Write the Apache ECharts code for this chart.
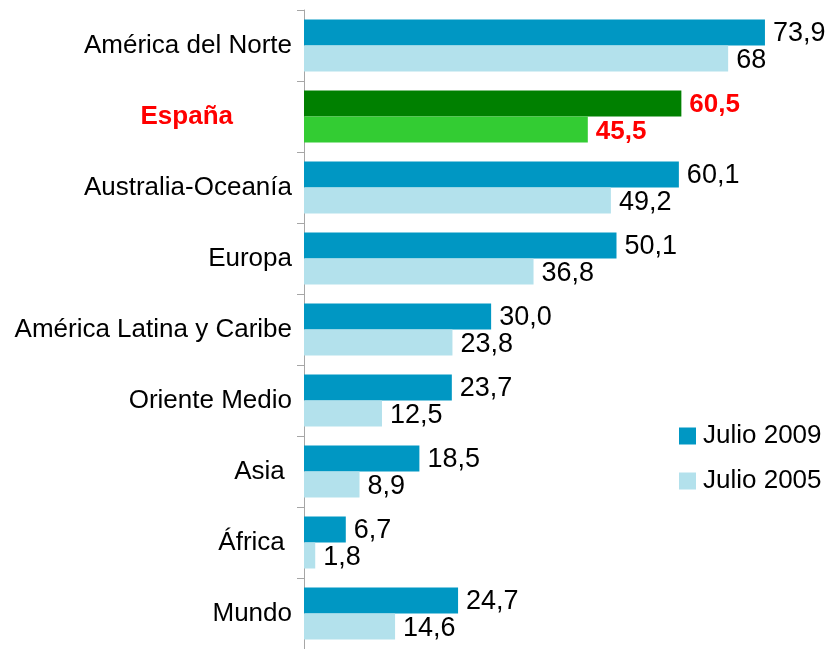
<!DOCTYPE html>
<html>
<head>
<meta charset="utf-8">
<script src="https://cdn.jsdelivr.net/npm/echarts@6/dist/echarts.min.js"></script>
<style>
  html, body { margin: 0; padding: 0; background: #fff; }
  #main { width: 828px; height: 649px; }
</style>
</head>
<body>
<div id="main"></div>
<script>
// regiones, de arriba a abajo (algunas llevan espacio final como en el original)
var regiones = ['América del Norte', 'España', 'Australia-Oceanía', 'Europa',
  'América Latina y Caribe', 'Oriente Medio', 'Asia ', 'África ', 'Mundo'];
var julio2009 = [73.9, 60.5, 60.1, 50.1, 30.0, 23.7, 18.5, 6.7, 24.7];
var julio2005 = [68, 45.5, 49.2, 36.8, 23.8, 12.5, 8.9, 1.8, 14.6];

var destacado = 'España';

function coma(v, fijo) {
  var s = fijo ? v.toFixed(1) : String(v);
  return s.replace('.', ',');
}

function datos(valores, colorEsp) {
  return valores.map(function (v, i) {
    if (regiones[i] !== destacado) return v;
    return {
      value: v,
      itemStyle: { color: colorEsp },
      label: { color: '#ff0000', fontWeight: 'bold', fontSize: 26 }
    };
  });
}

var myChart = echarts.init(document.getElementById('main'));
myChart.setOption({
  animation: false,
  textStyle: { fontFamily: 'Liberation Sans, Arial, sans-serif' },
  grid: { left: 304, right: 25, top: 10, bottom: 0 },
  legend: {
    orient: 'vertical',
    left: 679,
    top: 423,
    padding: 0,
    icon: 'rect',
    itemWidth: 17,
    itemHeight: 17,
    itemGap: 19,
    textStyle: { fontSize: 26, color: '#000', padding: [0, 0, 0, 2] },
    data: ['Julio 2009', 'Julio 2005']
  },
  xAxis: {
    type: 'value',
    min: 0,
    max: 80,
    show: false
  },
  yAxis: {
    type: 'category',
    inverse: true,
    data: regiones,
    axisLine: { show: true, lineStyle: { color: '#a6a6a6', width: 1 } },
    axisTick: { show: true, length: 7, lineStyle: { color: '#a6a6a6' } },
    axisLabel: {
      margin: 12,
      fontSize: 26,
      color: '#000',
      formatter: function (v) {
        return v === destacado ? '{esp|' + v + '}' : v;
      },
      rich: {
        esp: { color: '#ff0000', fontWeight: 'bold', fontSize: 26, padding: [0, 59, 0, 0] }
      }
    }
  },
  series: [
    {
      name: 'Julio 2009',
      type: 'bar',
      barWidth: 26,
      barGap: '0%',
      itemStyle: { color: '#0097c3' },
      label: {
        show: true,
        position: 'right',
        distance: 8,
        offset: [0, 1],
        fontSize: 27,
        color: '#000',
        formatter: function (p) { return coma(p.value, true); }
      },
      data: datos(julio2009, '#008000')
    },
    {
      name: 'Julio 2005',
      type: 'bar',
      barWidth: 26,
      itemStyle: { color: '#b3e1ec' },
      label: {
        show: true,
        position: 'right',
        distance: 8,
        offset: [0, 2],
        fontSize: 27,
        color: '#000',
        formatter: function (p) { return coma(p.value, false); }
      },
      data: datos(julio2005, '#33cc33')
    }
  ]
});
</script>
</body>
</html>
